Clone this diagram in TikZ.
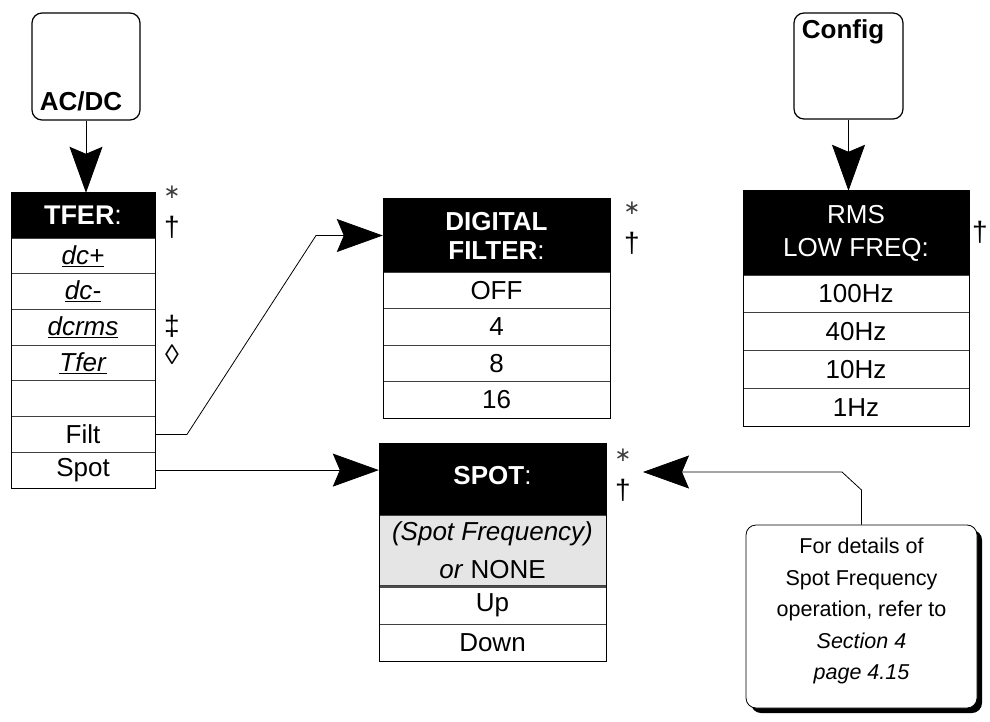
\documentclass[tikz,border=0pt]{standalone}
\usepackage{fontspec}
\setmainfont{Liberation Sans}
\newfontfamily\dejavu{DejaVu Sans}
\usetikzlibrary{arrows.meta,shadows}
\begin{document}
\begin{tikzpicture}[x=1pt,y=-1pt,
  keybox/.style={draw, line width=1.2pt, rounded corners=10pt, fill=white, inner sep=0pt},
  hdr/.style={draw, fill=black, text=white, inner sep=0pt, align=center},
  itm/.style={draw=black!75, line width=0.8pt, inner sep=0pt, align=center, font=\fontsize{26}{26}\selectfont},
  tfrow/.style={itm, minimum width=144pt, minimum height=35.71pt},
  dfrow/.style={itm, minimum width=227pt, minimum height=36.5pt},
  rmrow/.style={itm, minimum width=226pt, minimum height=37.75pt},
  sprow/.style={itm, minimum width=227pt, minimum height=37pt},
  conn/.style={line width=0.8pt, -{Stealth[length=46pt,width=33pt,inset=7pt]}},
  sym/.style={inner sep=0pt, font=\fontsize{28}{28}\selectfont},
  ast/.style={inner sep=0pt, text=black!75, font=\dejavu\fontsize{20}{20}\selectfont}
]
\useasboundingbox (0,0) rectangle (990,722);

% ---- AC/DC key and TFER menu
\node[keybox, minimum width=108pt, minimum height=107pt] (acdc) at (86,66.5) {};
\node[inner sep=0pt, font=\fontsize{26}{26}\selectfont\bfseries] (acdct) at (81,101) {AC/DC};

\node[hdr, minimum width=144pt, minimum height=45pt, font=\fontsize{27}{27}\selectfont] (tferh) at (83,215.5) {\textbf{TFER}:};
\node[tfrow] (tf1) at (83,255.9) {\underline{\textit{dc+}}};
\node[tfrow] (tf2) at (83,291.6) {\underline{\textit{dc-}}};
\node[tfrow] (tf3) at (83,327.3) {\underline{\textit{dcrms}}};
\node[tfrow] (tf4) at (83,363.0) {\underline{\textit{Tfer}}};
\node[tfrow] (tf5) at (83,398.7) {};
\node[tfrow] (filt) at (83,434.4) {Filt};
\node[tfrow] (spot) at (83,470.1) {Spot};
\draw[line width=1pt] (11,193) rectangle (155,488);

\node[ast] (s1) at (172,192) {∗};
\node[sym] (d1) at (172,227) {†};
\node[sym] (dd1) at (172,326) {‡};
\node[sym] (lz1) at (172,355) {◊};

\draw[conn] (acdc.south) -- (acdc.south |- tferh.north);

% ---- DIGITAL FILTER menu
\node[hdr, minimum width=227pt, minimum height=73pt, font=\fontsize{26}{29}\selectfont] (dfh) at (496.5,235.5) {\textbf{DIGITAL}\\\textbf{FILTER}:};
\node[dfrow] (df1) at (496.5,290.2) {OFF};
\node[dfrow] (df2) at (496.5,326.7) {4};
\node[dfrow] (df3) at (496.5,363.2) {8};
\node[dfrow] (df4) at (496.5,399.7) {16};
\draw[line width=1pt] (383,199) rectangle (610,418);

\node[ast] (s2) at (632,208) {∗};
\node[sym] (d2) at (632,243) {†};

\coordinate (fb1) at (187,437);
\coordinate (fb2) at (316,238);
\draw[conn] (filt.east) -- (filt.east -| fb1) -- (fb2 |- dfh.west) -- (dfh.west);

% ---- Config key and RMS LOW FREQ menu
\node[keybox, minimum width=109pt, minimum height=106pt] (config) at (848.5,66) {};
\node[inner sep=0pt, font=\fontsize{26}{26}\selectfont\bfseries] (configt) at (843,32) {Config};

\node[hdr, minimum width=226pt, minimum height=84pt, font=\fontsize{26}{33}\selectfont] (rmsh) at (856,233) {RMS\\LOW FREQ:};
\node[rmrow] (rm1) at (856,293.9) {100Hz};
\node[rmrow] (rm2) at (856,331.6) {40Hz};
\node[rmrow] (rm3) at (856,369.4) {10Hz};
\node[rmrow] (rm4) at (856,407.1) {1Hz};
\draw[line width=1pt] (743,191) rectangle (969,426);

\node[sym] (d3) at (980,232) {†};

\draw[conn] (config.south) -- (config.south |- rmsh.north);

% ---- SPOT menu
\node[hdr, minimum width=227pt, minimum height=74pt, font=\fontsize{26}{26}\selectfont] (sph) at (492.5,480) {\raisebox{9pt}{\textbf{SPOT}:}};
\node[itm, fill=black!10, minimum width=227pt, minimum height=70pt, font=\fontsize{26}{38}\selectfont] (spf) at (492.5,550) {\textit{(Spot Frequency)}\\\textit{or} NONE};
\node[sprow] (up) at (492.5,605.5) {Up};
\node[sprow] (down) at (492.5,642.5) {Down};
\draw[line width=1.8pt, black!70] (379,587) -- (606,587);
\draw[line width=1pt] (379,443) rectangle (606,661);

\node[ast] (s3) at (623,455) {∗};
\node[sym] (d4) at (623,490) {†};

\draw[conn] (spot.east) -- (spot.east -| sph.west);

% ---- Note
\node[draw, line width=0.8pt, fill=white, rounded corners=10pt, minimum width=231pt, minimum height=183pt,
      drop shadow={shadow xshift=5pt, shadow yshift=-5pt, fill=black, opacity=1}] (note) at (861.5,616.5) {};
\node[inner sep=0pt, align=center, font=\fontsize{21.5}{31.5}\selectfont] (notet) at (861.5,611)
  {For details of\\Spot Frequency\\operation, refer to\\\textit{Section 4}\\\textit{page 4.15}};

\coordinate (nb1) at (842,472);
\coordinate (ntip) at (643,472);
\draw[conn] (note.north) -- (note.north |- 0,490) -- (nb1) -- (ntip);
\end{tikzpicture}
\end{document}
